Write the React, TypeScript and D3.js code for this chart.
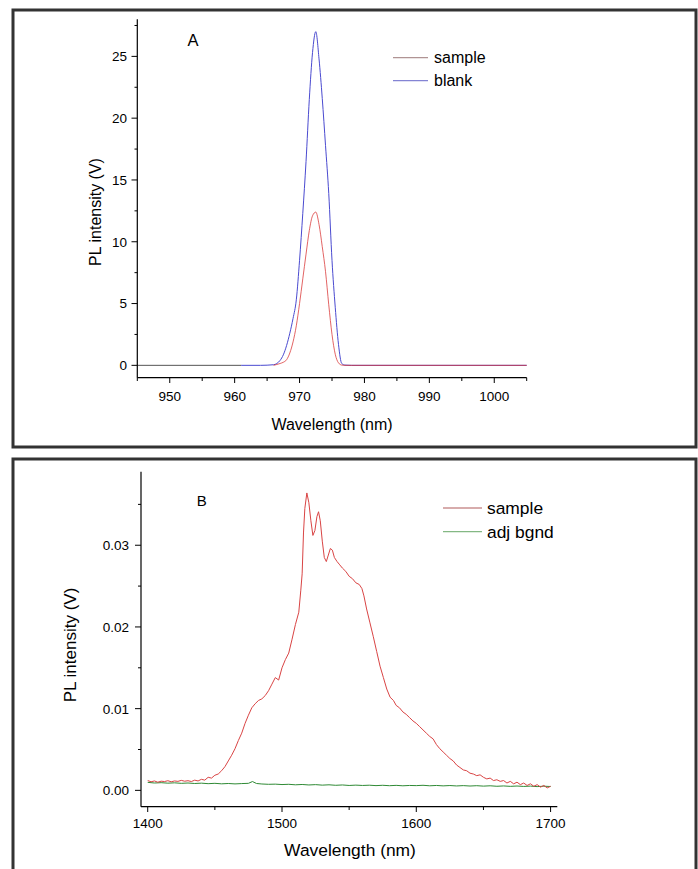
import React from "react";
import * as d3 from "d3";

// ---------- Panel A data ----------
const aPreWl = [945, 961];
const aPreVal = [0, 0];

const aBlankWl = [961, 964, 966, 966.5, 967, 967.5, 968, 968.5, 969, 969.5, 970, 970.5, 971, 971.5, 972, 972.5, 973, 973.5, 974, 974.5, 975, 975.5, 976, 976.5, 977, 978, 1005];
const aBlankVal = [0, 0, 0.05, 0.15, 0.4, 0.85, 1.6, 2.6, 3.8, 5.3, 8.5, 12.3, 16.5, 21.5, 25.3, 27.0, 24.8, 21.6, 17.8, 13.9, 8.5, 4.7, 1.7, 0.15, 0.02, 0, 0];

const aSampleWl = [966, 967, 967.5, 968, 968.5, 969, 969.5, 970, 970.5, 971, 971.5, 972, 972.5, 973, 973.5, 974, 974.5, 975, 975.5, 976, 976.5, 977, 1005];
const aSampleVal = [0, 0.15, 0.25, 0.45, 1.0, 1.9, 3.2, 5.0, 7.0, 9.0, 10.9, 12.1, 12.4, 11.4, 9.6, 7.6, 4.9, 2.5, 0.9, 0.2, 0.02, 0, 0];

const aXTicks = [950, 960, 970, 980, 990, 1000];
const aXMinor = [945, 955, 965, 975, 985, 995, 1005];
const aYTicks = [0, 5, 10, 15, 20, 25];
const aYMinor = [2.5, 7.5, 12.5, 17.5, 22.5, 27.5];

// ---------- Panel B data ----------
const bSampleWl = [
  1400, 1402.5, 1405, 1407.5, 1410, 1412.5, 1415, 1417.5, 1420, 1422.5, 1425, 1427.5, 1430, 1432.5, 1435, 1437.5,
  1440, 1442.5, 1445, 1447.5, 1450, 1452.5, 1455, 1457.5, 1460, 1462.5, 1465, 1467.5, 1470, 1472.5, 1475, 1477.5,
  1480, 1482.5, 1485, 1487.5, 1490, 1492.5, 1495, 1497.5, 1500, 1502.5, 1505, 1507.5, 1510, 1512.5, 1514, 1515,
  1516, 1517, 1518.5, 1520, 1521.5, 1523, 1524.5, 1526, 1527.2, 1528.5, 1530, 1531.5, 1533, 1534.5, 1536, 1537.5,
  1539, 1541, 1543, 1545, 1547.5, 1550, 1552.5, 1555, 1557.5, 1559.5, 1561, 1563, 1565.5, 1568, 1570.5, 1573,
  1575.5, 1578, 1580.5, 1583, 1585, 1587.5, 1590, 1592.5, 1595, 1597.5, 1600, 1602.5, 1605, 1607.5, 1610, 1612.5,
  1615, 1617.5, 1620, 1622.5, 1625, 1627.5, 1630, 1632.5, 1635, 1637.5, 1640, 1642.5, 1645, 1647.5, 1650, 1652.5,
  1655, 1657.5, 1660, 1662.5, 1665, 1667.5, 1670, 1672.5, 1675, 1677.5, 1680, 1682.5, 1685, 1687.5, 1690, 1692.5,
  1695, 1697.5, 1700,
];
const bSampleVal = [
  0.0012, 0.00105, 0.00115, 0.001, 0.00112, 0.00108, 0.00118, 0.00105, 0.00115, 0.0011, 0.00122, 0.00112, 0.00118, 0.00108, 0.00125, 0.00115,
  0.00135, 0.00125, 0.0016, 0.0015, 0.00185, 0.002, 0.0024, 0.0029, 0.0036, 0.0043, 0.0051, 0.0061, 0.007, 0.0082, 0.0092, 0.0101,
  0.0106, 0.011, 0.0112, 0.0116, 0.0122, 0.013, 0.0138, 0.0135, 0.015, 0.016, 0.0168, 0.0185, 0.0203, 0.0218, 0.0245, 0.0265,
  0.0315, 0.0345, 0.0364, 0.0352, 0.033, 0.0312, 0.0318, 0.0335, 0.0341, 0.033, 0.0305, 0.0285, 0.028, 0.0288, 0.0296, 0.0294,
  0.0285, 0.028, 0.0276, 0.0272, 0.0268, 0.0262, 0.0259, 0.0254, 0.0252, 0.0247, 0.0238, 0.0222, 0.0205, 0.0188, 0.017, 0.0152,
  0.0138, 0.0124, 0.0114, 0.011, 0.0104, 0.0101, 0.0096, 0.0093, 0.0089, 0.0085, 0.0082, 0.0078, 0.0074, 0.007, 0.0066, 0.0063,
  0.0056, 0.0051, 0.0047, 0.0043, 0.0039, 0.0036, 0.0031, 0.0028, 0.0025, 0.0024, 0.0021, 0.002, 0.0018, 0.0019, 0.0016, 0.0014,
  0.0015, 0.0012, 0.0013, 0.0011, 0.0012, 0.0009, 0.0011, 0.0008, 0.001, 0.0007, 0.0009, 0.0006, 0.0008, 0.0005, 0.0007, 0.0004,
  0.0006, 0.0003, 0.0005,
];

const bBgndWl = [
  1400, 1405, 1410, 1415, 1420, 1425, 1430, 1435, 1440, 1445, 1450, 1455, 1460, 1465, 1470, 1475, 1478, 1481, 1485, 1490,
  1495, 1500, 1505, 1510, 1515, 1520, 1525, 1530, 1535, 1540, 1545, 1550, 1555, 1560, 1565, 1570, 1575, 1580, 1585, 1590,
  1595, 1600, 1605, 1610, 1615, 1620, 1625, 1630, 1635, 1640, 1645, 1650, 1655, 1660, 1665, 1670, 1675, 1680, 1685, 1690,
  1695, 1700,
];
const bBgndVal = [
  0.00098, 0.0009, 0.00094, 0.00088, 0.00092, 0.00086, 0.0009, 0.00084, 0.00088, 0.00082, 0.00086, 0.0008, 0.00084, 0.00079, 0.00083, 0.00086, 0.00108, 0.00084, 0.00078, 0.00074,
  0.00076, 0.00071, 0.00074, 0.00068, 0.00072, 0.00066, 0.0007, 0.00064, 0.00068, 0.00062, 0.00066, 0.0006, 0.00064, 0.0006, 0.00063, 0.00058, 0.00062, 0.00057, 0.00061, 0.00056,
  0.0006, 0.00058, 0.00062, 0.00056, 0.0006, 0.00055, 0.00059, 0.00054, 0.00058, 0.00053, 0.00057, 0.00052, 0.00056, 0.0005, 0.00054, 0.00049, 0.00053, 0.00048, 0.00052, 0.00046,
  0.00051, 0.00047,
];

const bXTicks = [1400, 1500, 1600, 1700];
const bXMinor = [1450, 1550, 1650];
const bYTicks = [0, 0.01, 0.02, 0.03];
const bYMinor = [0.005, 0.015, 0.025, 0.035];

const FONT = "'Liberation Sans', Arial, sans-serif";

function mkPath(x: d3.ScaleLinear<number, number>, y: d3.ScaleLinear<number, number>, wl: number[], v: number[], curve = d3.curveMonotoneX) {
  const pts = wl.map((w, i) => [w, v[i]] as [number, number]);
  return d3.line<[number, number]>().x((d) => x(d[0])).y((d) => y(d[1])).curve(curve)(pts) || "";
}

export default function App() {
  // Panel A scales
  const ax = d3.scaleLinear().domain([945, 1005]).range([137.3, 526.7]);
  const ay = d3.scaleLinear().domain([-1, 28]).range([377.7, 19.3]);
  // Panel B scales
  const bx = d3.scaleLinear().domain([1395, 1705]).range([141, 557.3]);
  const by = d3.scaleLinear().domain([-0.002, 0.039]).range([806.7, 471.7]);

  const axisColor = "#000";
  return (
    <svg width={698} height={869} style={{ position: "absolute", left: 0, top: 0, background: "#fff" }} fontFamily={FONT}>
      <rect x={0} y={0} width={698} height={869} fill="#fff" />
      {/* frames */}
      <rect x={13} y={10} width={683} height={437} fill="none" stroke="#333" strokeWidth={3} />
      <rect x={13} y={459} width={683} height={430} fill="none" stroke="#333" strokeWidth={3} />

      {/* ===== Panel A ===== */}
      <g>
        <path d={mkPath(ax, ay, aPreWl, aPreVal, d3.curveLinear)} fill="none" stroke="#555" strokeWidth={1} />
        <path d={mkPath(ax, ay, aBlankWl, aBlankVal)} fill="none" stroke="#4a4ad0" strokeWidth={1} />
        <path d={mkPath(ax, ay, aSampleWl, aSampleVal)} fill="none" stroke="#d83030" strokeWidth={1} strokeOpacity={0.75} />
        {/* axes */}
        <line x1={ax.range()[0]} x2={ax.range()[1]} y1={377.7} y2={377.7} stroke={axisColor} strokeWidth={1.2} />
        <line x1={137.3} x2={137.3} y1={ay.range()[1]} y2={ay.range()[0]} stroke={axisColor} strokeWidth={1.2} />
        {aXTicks.map((t) => (
          <g key={"axt" + t}>
            <line x1={ax(t)} x2={ax(t)} y1={377.7} y2={383} stroke={axisColor} />
            <text x={ax(t)} y={401} textAnchor="middle" fontSize={13.5}>{t}</text>
          </g>
        ))}
        {aXMinor.map((t) => (
          <line key={"axm" + t} x1={ax(t)} x2={ax(t)} y1={377.7} y2={381} stroke={axisColor} />
        ))}
        {aYTicks.map((t) => (
          <g key={"ayt" + t}>
            <line x1={131.5} x2={137.3} y1={ay(t)} y2={ay(t)} stroke={axisColor} />
            <text x={127} y={ay(t)} dy="0.36em" textAnchor="end" fontSize={13.5}>{t}</text>
          </g>
        ))}
        {aYMinor.map((t) => (
          <line key={"aym" + t} x1={134.5} x2={137.3} y1={ay(t)} y2={ay(t)} stroke={axisColor} />
        ))}
        <text x={332} y={430} textAnchor="middle" fontSize={16}>Wavelength (nm)</text>
        <text transform="translate(101,212) rotate(-90)" textAnchor="middle" fontSize={16}>PL intensity (V)</text>
        <text x={193} y={46} textAnchor="middle" fontSize={16.5}>A</text>
        {/* legend */}
        <line x1={393} x2={428} y1={57.7} y2={57.7} stroke="#b09494" strokeWidth={1.2} />
        <line x1={393} x2={428} y1={80.7} y2={80.7} stroke="#8484d4" strokeWidth={1.2} />
        <text x={434} y={57.7} dy="0.36em" fontSize={16}>sample</text>
        <text x={434} y={80.7} dy="0.36em" fontSize={16}>blank</text>
      </g>

      {/* ===== Panel B ===== */}
      <g>
        <path d={mkPath(bx, by, bBgndWl, bBgndVal, d3.curveLinear)} fill="none" stroke="#2f8a35" strokeWidth={1} />
        <path d={mkPath(bx, by, bSampleWl, bSampleVal, d3.curveLinear)} fill="none" stroke="#d94444" strokeWidth={1} />
        <line x1={bx.range()[0]} x2={bx.range()[1]} y1={806.7} y2={806.7} stroke={axisColor} strokeWidth={1.2} />
        <line x1={141} x2={141} y1={by.range()[1]} y2={by.range()[0]} stroke={axisColor} strokeWidth={1.2} />
        {bXTicks.map((t) => (
          <g key={"bxt" + t}>
            <line x1={bx(t)} x2={bx(t)} y1={806.7} y2={812} stroke={axisColor} />
            <text x={bx(t)} y={828} textAnchor="middle" fontSize={13.5}>{t}</text>
          </g>
        ))}
        {bXMinor.map((t) => (
          <line key={"bxm" + t} x1={bx(t)} x2={bx(t)} y1={806.7} y2={810} stroke={axisColor} />
        ))}
        {bYTicks.map((t) => (
          <g key={"byt" + t}>
            <line x1={135} x2={141} y1={by(t)} y2={by(t)} stroke={axisColor} />
            <text x={129} y={by(t)} dy="0.36em" textAnchor="end" fontSize={13.5}>{t.toFixed(2)}</text>
          </g>
        ))}
        {bYMinor.map((t) => (
          <line key={"bym" + t} x1={138} x2={141} y1={by(t)} y2={by(t)} stroke={axisColor} />
        ))}
        <text x={350} y={856} textAnchor="middle" fontSize={17.4}>Wavelength (nm)</text>
        <text transform="translate(76,645) rotate(-90)" textAnchor="middle" fontSize={17}>PL intensity (V)</text>
        <text x={201.7} y={505.5} textAnchor="middle" fontSize={15}>B</text>
        <line x1={443} x2={482} y1={508} y2={508} stroke="#b05a5a" strokeWidth={1.2} />
        <line x1={443} x2={482} y1={531.7} y2={531.7} stroke="#84b884" strokeWidth={1.2} />
        <text x={487} y={508} dy="0.36em" fontSize={17.4}>sample</text>
        <text x={487} y={531.7} dy="0.36em" fontSize={17.4}>adj bgnd</text>
      </g>
    </svg>
  );
}
